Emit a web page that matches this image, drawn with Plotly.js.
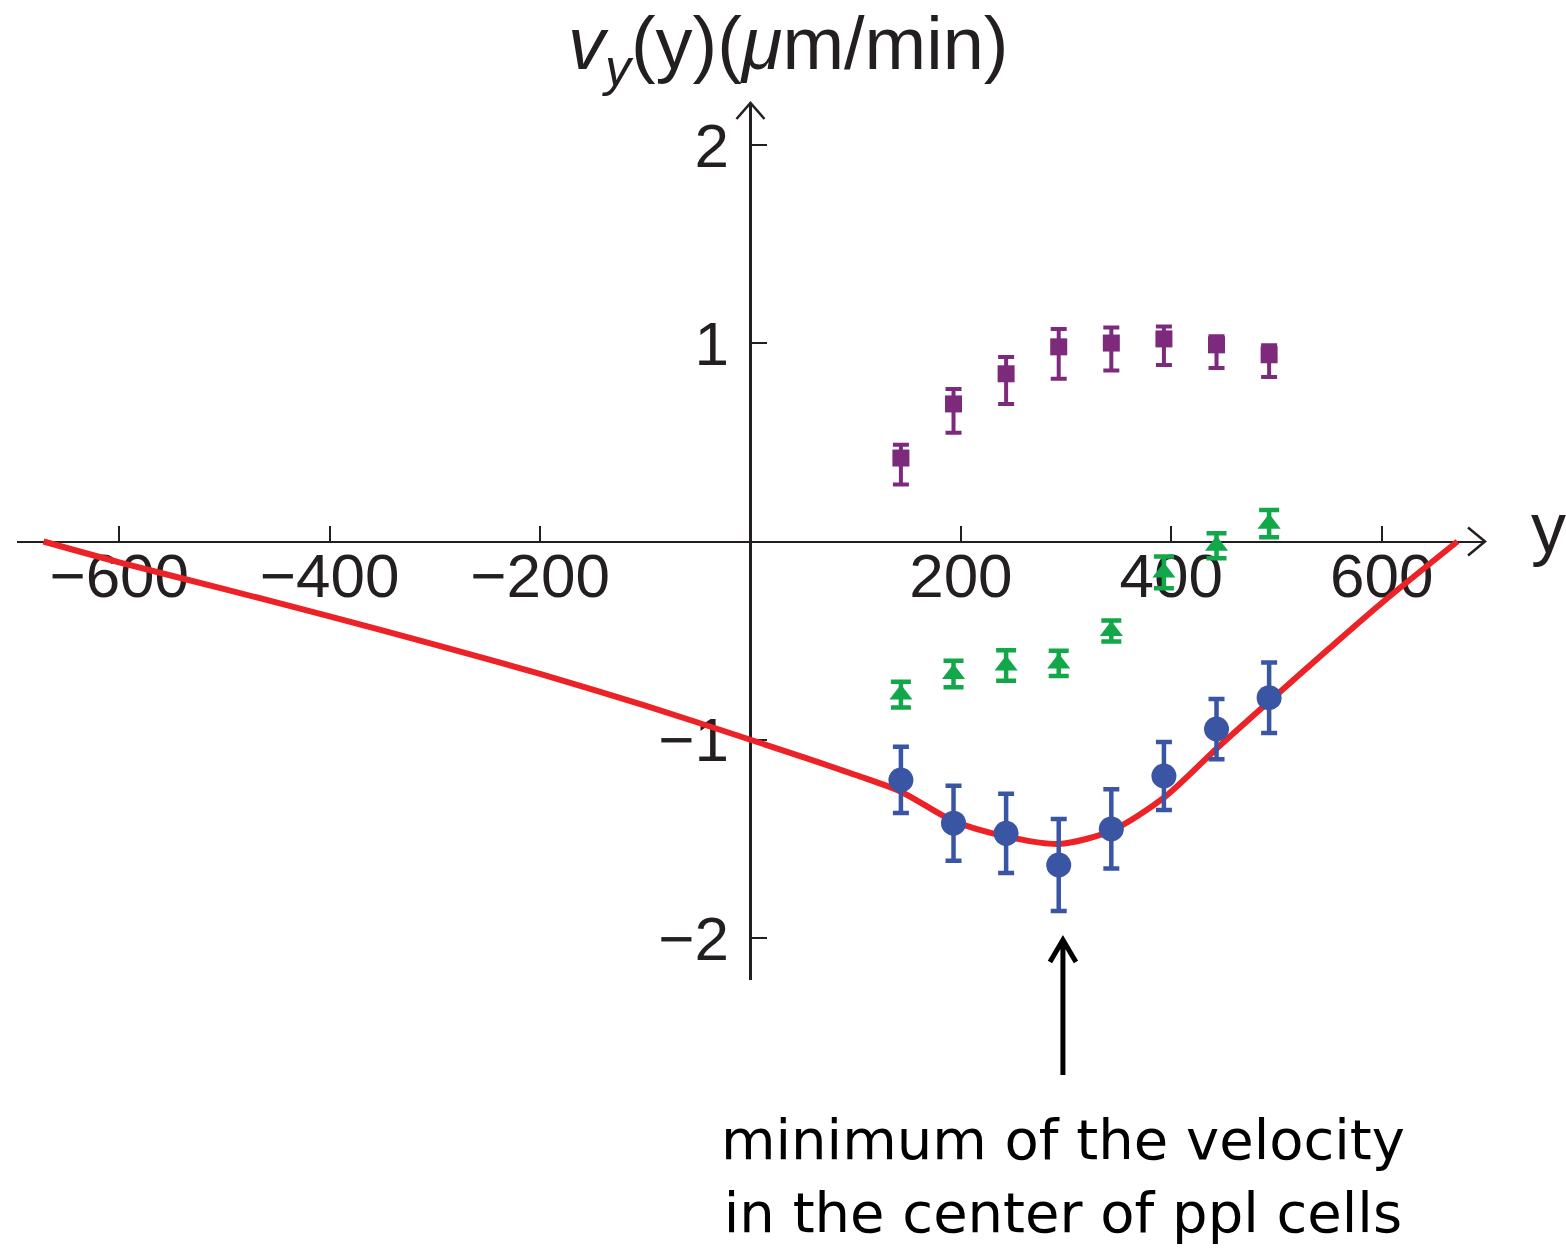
<!DOCTYPE html>
<html>
<head>
<meta charset="utf-8">
<script src="https://cdn.plot.ly/plotly-3.0.1.min.js"></script>
<style>
  html, body { margin: 0; padding: 0; background: #ffffff; }
  #chart { width: 1566px; height: 1254px; }
</style>
</head>
<body>
<div id="chart"></div>
<script>
// Sampling positions along y (µm)
const positions = [143, 193, 243, 293, 343, 393, 443, 493];

// Measured velocity, blue circles
const circleVel = [-1.203, -1.421, -1.472, -1.632, -1.450, -1.183, -0.946, -0.788];
const circleErr = [0.167, 0.189, 0.200, 0.232, 0.200, 0.172, 0.152, 0.178];

// Purple squares (asymmetric error bars)
const squareVel = [0.421, 0.694, 0.846, 0.982, 1.001, 1.022, 0.992, 0.942];
const squareErrUp = [0.067, 0.075, 0.085, 0.090, 0.079, 0.063, 0.043, 0.048];
const squareErrDown = [0.134, 0.145, 0.152, 0.161, 0.139, 0.132, 0.117, 0.112];

// Green triangles
const triangleVel = [-0.772, -0.668, -0.625, -0.615, -0.452, -0.156, -0.022, 0.090];
const triangleErr = [0.065, 0.067, 0.077, 0.064, 0.053, 0.080, 0.063, 0.069];

// Model curve (red)
const modelY = [-672, -600, -500, -400, -300, -200, -100, 0, 50, 100, 143, 193, 243, 293, 343, 393, 443, 493, 550, 600, 672];
const modelVel = [0, -0.105, -0.240, -0.378, -0.520, -0.668, -0.828, -1.0, -1.088, -1.178, -1.262, -1.41, -1.488, -1.526, -1.459, -1.292, -1.045, -0.807, -0.54, -0.31, 0];

// Axis ticks
const xTickVals = [-600, -400, -200, 200, 400, 600];
const xTickText = ['\u2212600', '\u2212400', '\u2212200', '200', '400', '600'];
const yTickVals = [-2, -1, 1, 2];
const yTickText = ['\u22122', '\u22121', '1', '2'];

// Position the caption arrow points at (velocity minimum)
const minimumAt = 297;

const X_RANGE = [-697.2, 698.2];
const Y_RANGE = [-2.212, 2.212];

const ink = '#231f20';
const blue = '#3b55a5';
const purple = '#7d2a7d';
const green = '#12a84a';
const red = '#ec2227';

const W = 1566, H = 1254;
const M = { l: 17, r: 81, t: 103, b: 274 };
const plotW = W - M.l - M.r;
const plotH = H - M.t - M.b;

// axes cross at the origin
const xAxisPos = (0 - Y_RANGE[0]) / (Y_RANGE[1] - Y_RANGE[0]);
const yAxisPos = (0 - X_RANGE[0]) / (X_RANGE[1] - X_RANGE[0]);

const traces = [
  {
    x: modelY, y: modelVel, mode: 'lines', type: 'scatter',
    line: { color: red, width: 6, shape: 'spline', smoothing: 0.8 },
    hoverinfo: 'skip'
  },
  {
    x: positions, y: triangleVel, mode: 'markers', type: 'scatter',
    marker: { symbol: 'triangle-up', size: 20, color: green },
    error_y: { type: 'data', array: triangleErr, visible: true, color: green, thickness: 4.5, width: 10 }
  },
  {
    x: positions, y: squareVel, mode: 'markers', type: 'scatter',
    marker: { symbol: 'square', size: 17, color: purple },
    error_y: { type: 'data', symmetric: false, array: squareErrUp, arrayminus: squareErrDown,
               visible: true, color: purple, thickness: 4, width: 8 }
  },
  {
    x: positions, y: circleVel, mode: 'markers', type: 'scatter',
    marker: { symbol: 'circle', size: 25, color: blue },
    error_y: { type: 'data', array: circleErr, visible: true, color: blue, thickness: 4.5, width: 8 }
  }
];

// open chevron arrowheads at the axis ends
const px2x = 1 / plotW, px2y = 1 / plotH;
const chevronY = `M${yAxisPos - 14 * px2x},${1 - 16 * px2y} L${yAxisPos},1 L${yAxisPos + 14 * px2x},${1 - 16 * px2y}`;
const chevronX = `M${1 - 17 * px2x},${xAxisPos + 14 * px2y} L1,${xAxisPos} L${1 - 17 * px2x},${xAxisPos - 14 * px2y}`;

// caption arrow pointing up at the velocity minimum
const arrowX = (minimumAt - X_RANGE[0]) / (X_RANGE[1] - X_RANGE[0]);
const arrowTip = (-2.01 - Y_RANGE[0]) / (Y_RANGE[1] - Y_RANGE[0]);
const arrowTail = arrowTip - 135 * px2y;
const captionArrow = `M${arrowX},${arrowTail} L${arrowX},${arrowTip}` +
  ` M${arrowX - 13 * px2x},${arrowTip - 22 * px2y} L${arrowX},${arrowTip} L${arrowX + 13 * px2x},${arrowTip - 22 * px2y}`;

const axisCommon = {
  showgrid: false, zeroline: false, showline: true,
  linecolor: ink, linewidth: 2.5,
  ticks: 'inside', ticklen: 15, tickwidth: 2, tickcolor: ink,
  tickmode: 'array', anchor: 'free',
  tickfont: { family: 'Liberation Sans, Arial, sans-serif', size: 62, color: ink },
  layer: 'below traces', fixedrange: true
};

const layout = {
  width: W, height: H,
  margin: M,
  paper_bgcolor: '#ffffff', plot_bgcolor: '#ffffff',
  showlegend: false,
  xaxis: Object.assign({}, axisCommon, {
    range: X_RANGE, domain: [0, 1], position: xAxisPos,
    tickvals: xTickVals, ticktext: xTickText, side: 'bottom', ticklabelstandoff: -20
  }),
  yaxis: Object.assign({}, axisCommon, {
    range: Y_RANGE, domain: [0, 1], position: yAxisPos,
    tickvals: yTickVals, ticktext: yTickText, side: 'left', ticklabelstandoff: 8
  }),
  shapes: [
    { type: 'path', xref: 'paper', yref: 'paper', path: chevronY, line: { color: ink, width: 2.5 } },
    { type: 'path', xref: 'paper', yref: 'paper', path: chevronX, line: { color: ink, width: 2.5 } },
    { type: 'path', xref: 'paper', yref: 'paper', path: captionArrow, line: { color: '#000000', width: 5 } }
  ],
  annotations: [
    {
      xref: 'paper', yref: 'paper', x: (788 - M.l) / plotW, y: 1 + 54 / plotH,
      xanchor: 'center', yanchor: 'middle', showarrow: false,
      text: '<i>v</i><sub><i>y</i></sub>(y)(<i>\u03bc</i>m/min)',
      font: { family: 'Liberation Sans, Arial, sans-serif', size: 74, color: ink }
    },
    {
      xref: 'paper', yref: 'paper', x: (1548 - M.l) / plotW, y: xAxisPos + 14 / plotH,
      xanchor: 'center', yanchor: 'middle', showarrow: false,
      text: 'y',
      font: { family: 'Liberation Sans, Arial, sans-serif', size: 70, color: ink }
    },
    {
      xref: 'x', yref: 'paper', x: minimumAt, y: -125 / plotH,
      xanchor: 'center', yanchor: 'top', showarrow: false, align: 'center',
      text: 'minimum of the velocity<br>in the center of ppl cells',
      font: { family: 'DejaVu Sans, sans-serif', size: 56, color: '#000000' }
    }
  ]
};

Plotly.newPlot('chart', traces, layout, { staticPlot: true, displayModeBar: false });
</script>
</body>
</html>
